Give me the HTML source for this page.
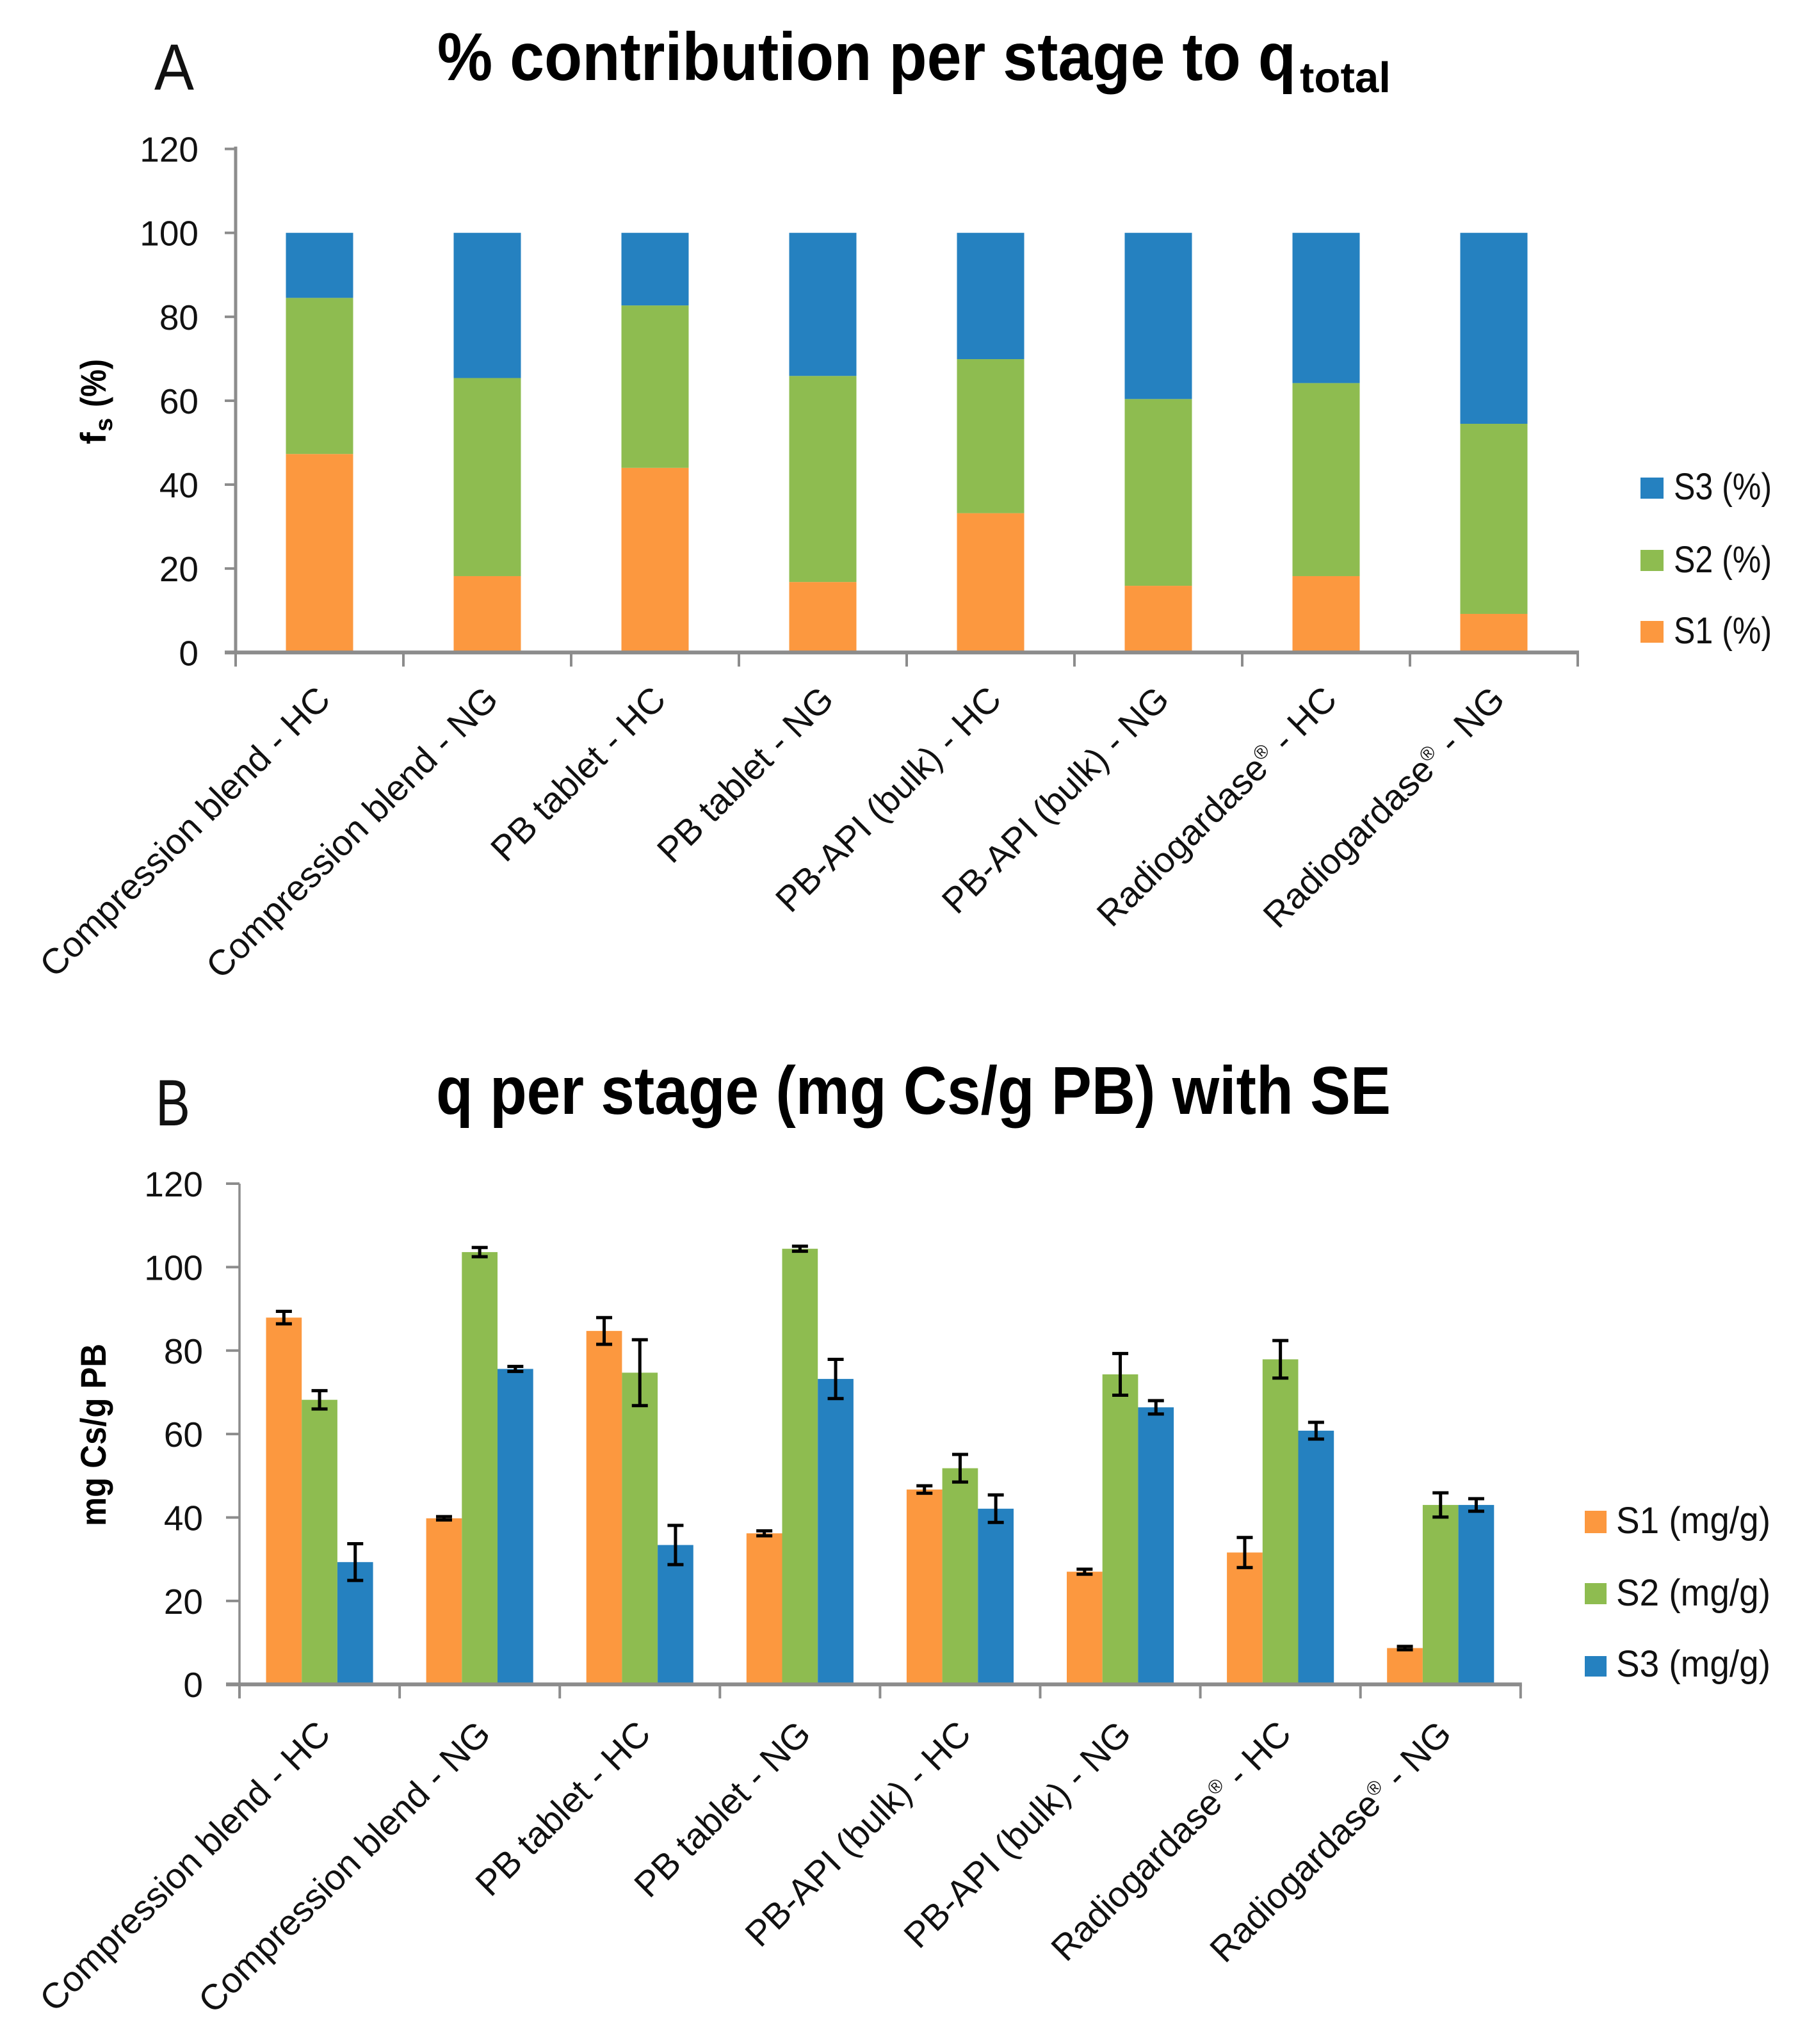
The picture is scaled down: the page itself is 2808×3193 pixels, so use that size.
<!DOCTYPE html>
<html lang="en">
<head>
<meta charset="utf-8">
<title>% contribution per stage and q per stage</title>
<style>
html,body{margin:0;padding:0;background:#fff;}
svg{display:block;}
text{font-family:"Liberation Sans",sans-serif;fill:#111;}
.b{font-weight:700;fill:#000;}
</style>
</head>
<body>
<svg id="figure" xmlns="http://www.w3.org/2000/svg" width="2808" height="3193" viewBox="0 0 2808 3193">
  <rect width="2808" height="3193" fill="#fff"/>

  <text x="241" y="140" font-size="102" textLength="62" lengthAdjust="spacingAndGlyphs">A</text>
  <text class="b" x="683" y="125" font-size="106" textLength="1341" lengthAdjust="spacingAndGlyphs">% contribution per stage to q</text>
  <text class="b" x="2030" y="144" font-size="67" textLength="142" lengthAdjust="spacingAndGlyphs">total</text>

  <g transform="translate(165,694) rotate(-90)">
    <text class="b" x="0" y="0" font-size="56">f</text>
    <text class="b" x="20" y="10" font-size="38">s</text>
    <text class="b" x="58" y="0" font-size="56" textLength="75" lengthAdjust="spacingAndGlyphs">(%)</text>
  </g>

  <g id="chartA"></g>

  <g>
    <rect x="2562" y="746" width="36" height="33" fill="#2581c0"/>
    <text x="2614" y="780" font-size="58" textLength="153" lengthAdjust="spacingAndGlyphs">S3 (%)</text>
    <rect x="2562" y="859" width="36" height="33" fill="#8ebc50"/>
    <text x="2614" y="894" font-size="58" textLength="153" lengthAdjust="spacingAndGlyphs">S2 (%)</text>
    <rect x="2562" y="970" width="36" height="34" fill="#fc983f"/>
    <text x="2614" y="1005" font-size="58" textLength="153" lengthAdjust="spacingAndGlyphs">S1 (%)</text>
  </g>

  <text x="243" y="1758" font-size="102" textLength="54" lengthAdjust="spacingAndGlyphs">B</text>
  <text class="b" x="681" y="1740" font-size="106" textLength="1491" lengthAdjust="spacingAndGlyphs">q per stage (mg Cs/g PB) with SE</text>

  <text class="b" transform="translate(165,2384) rotate(-90)" x="0" y="0" font-size="56" textLength="285" lengthAdjust="spacingAndGlyphs">mg Cs/g PB</text>

  <g id="chartB"></g>

  <g>
    <rect x="2475" y="2360" width="34" height="35" fill="#fc983f"/>
    <text x="2524" y="2395" font-size="58" textLength="241" lengthAdjust="spacingAndGlyphs">S1 (mg/g)</text>
    <rect x="2475" y="2473" width="34" height="33" fill="#8ebc50"/>
    <text x="2524" y="2508" font-size="58" textLength="241" lengthAdjust="spacingAndGlyphs">S2 (mg/g)</text>
    <rect x="2475" y="2587" width="34" height="32" fill="#2581c0"/>
    <text x="2524" y="2619" font-size="58" textLength="241" lengthAdjust="spacingAndGlyphs">S3 (mg/g)</text>
  </g>
</svg>

<script>
const categories = ["Compression blend - HC","Compression blend - NG","PB tablet - HC","PB tablet - NG","PB-API (bulk) - HC","PB-API (bulk) - NG","Radiogardase® - HC","Radiogardase® - NG"];
const yTicks = [0,20,40,60,80,100,120];

const pctS1 = [47.3,18.2,44.0,16.8,33.2,15.9,18.2,9.2];
const pctS2 = [37.2,47.2,38.7,49.1,36.7,44.5,46.0,45.3];
const pctS3 = [15.5,34.6,17.3,34.1,30.1,39.6,35.8,45.5];

const mgS1 = [87.9,39.8,84.7,36.2,46.7,27.0,31.6,8.7];
const mgS2 = [68.2,103.6,74.7,104.4,51.8,74.3,77.9,43.0];
const mgS3 = [29.3,75.6,33.4,73.2,42.1,66.4,60.8,43.0];

const errS1 = [1.5,0.4,3.2,0.6,0.9,0.6,3.6,0.4];
const errS2 = [2.2,1.1,7.9,0.6,3.3,5.0,4.5,2.9];
const errS3 = [4.4,0.6,4.7,4.7,3.3,1.6,2.0,1.5];

const ORANGE = "#fc983f", GREEN = "#8ebc50", BLUE = "#2581c0", AXIS = "#8c8c8c";
const NS = "http://www.w3.org/2000/svg";

function make(tag, attrs, parent) {
  const el = document.createElementNS(NS, tag);
  for (const k in attrs) el.setAttribute(k, attrs[k]);
  parent.appendChild(el);
  return el;
}

function drawAxes(parent, opt) {
  const yAxis = make("line", {x1:opt.x0, x2:opt.x0, y1:opt.axisTop, y2:opt.y0, stroke:AXIS, "stroke-width":opt.yAxisWidth}, parent);
  
  
  yTicks.forEach(function (t) {
    const py = opt.y(t);
    const tick = make("line", {x1:opt.x0 - opt.yTickLen, x2:opt.x0, y1:py, y2:py, stroke:AXIS, "stroke-width":4}, parent);
    
    
    const label = make("text", {x:opt.labelRight, y:py + 20, "font-size":55, "text-anchor":"end"}, parent);
    label.textContent = String(t);
    
    
  });
  const xEnd = opt.x0 + opt.step * categories.length;
  const xAxis = make("line", {x1:opt.x0 - opt.yTickLen, x2:xEnd + 2, y1:opt.y0, y2:opt.y0, stroke:AXIS, "stroke-width":6}, parent);
  
  
  for (let i = 0; i <= categories.length; i++) {
    const px = opt.x0 + opt.step * i;
    const tick = make("line", {x1:px, x2:px, y1:opt.y0, y2:opt.y0 + 22, stroke:AXIS, "stroke-width":4}, parent);
    
    
  }
  categories.forEach(function (c, i) {
    const cx = opt.x0 + opt.step * (i + 0.5) + 20;
    const label = make("text", {"font-size":56, "text-anchor":"end", transform:"translate(" + cx + "," + opt.labelY + ") rotate(-45)"}, parent);
    
    
    const parts = c.split("®");
    if (parts.length === 2) {
      const a = make("tspan", {}, label);
      a.textContent = parts[0];
      const r = make("tspan", {"font-size":30, dy:-20}, label);
      r.textContent = "®";
      const b = make("tspan", {dy:20}, label);
      b.textContent = parts[1];
    } else {
      label.textContent = c;
    }
  });
}

function addBar(parent, x, w, yTop, yBottom, fill, name) {
  const r = make("rect", {x:x, y:yTop, width:w, height:yBottom - yTop, fill:fill}, parent);
  
  
  return r;
}

function drawChartA() {
  const g = document.getElementById("chartA");
  const x0 = 368, step = 262, y0 = 1019.3, unit = 6.556, barW = 105;
  const y = function (v) { return y0 - v * unit; };
  const cx = function (i) { return x0 + step * (i + 0.5); };
  categories.forEach(function (c, i) {
    const left = cx(i) - barW / 2;
    const a = pctS1[i], b = a + pctS2[i], t = b + pctS3[i];
    addBar(g, left, barW, y(a), y(0), ORANGE, "bar-s1-percent");
    addBar(g, left, barW, y(b), y(a), GREEN, "bar-s2-percent");
    addBar(g, left, barW, y(t), y(b), BLUE, "bar-s3-percent");
  });
  drawAxes(g, {x0:x0, y0:y0, y:y, step:step, axisTop:229, yAxisWidth:5, yTickLen:17, labelRight:310, labelY:1096});
}

function drawChartB() {
  const g = document.getElementById("chartB");
  const x0 = 374, step = 250.1, y0 = 2631.2, unit = 6.518, barW = 55.7, capHalf = 12.5;
  const y = function (v) { return y0 - v * unit; };
  const cx = function (i) { return x0 + step * (i + 0.5); };
  const seriesList = [
    {values:mgS1, errs:errS1, color:ORANGE, name:"bar-s1-mg"},
    {values:mgS2, errs:errS2, color:GREEN, name:"bar-s2-mg"},
    {values:mgS3, errs:errS3, color:BLUE, name:"bar-s3-mg"}
  ];
  seriesList.forEach(function (s, si) {
    s.values.forEach(function (v, i) {
      const left = cx(i) + (si - 1.5) * barW;
      addBar(g, left, barW, y(v), y(0), s.color, s.name);
    });
  });
  seriesList.forEach(function (s, si) {
    s.values.forEach(function (v, i) {
      const mid = cx(i) + (si - 1) * barW;
      const hi = y(v + s.errs[i]), lo = y(v - s.errs[i]);
      const stem = make("line", {x1:mid, x2:mid, y1:hi, y2:lo, stroke:"#000", "stroke-width":5}, g);
      
      
      const capTop = make("line", {x1:mid - capHalf, x2:mid + capHalf, y1:hi, y2:hi, stroke:"#000", "stroke-width":5}, g);
      
      
      const capBottom = make("line", {x1:mid - capHalf, x2:mid + capHalf, y1:lo, y2:lo, stroke:"#000", "stroke-width":5}, g);
      
      
    });
  });
  drawAxes(g, {x0:x0, y0:y0, y:y, step:step, axisTop:1849, yAxisWidth:3.5, yTickLen:21, labelRight:317, labelY:2712});
}

drawChartA();
drawChartB();
</script>
</body>
</html>
